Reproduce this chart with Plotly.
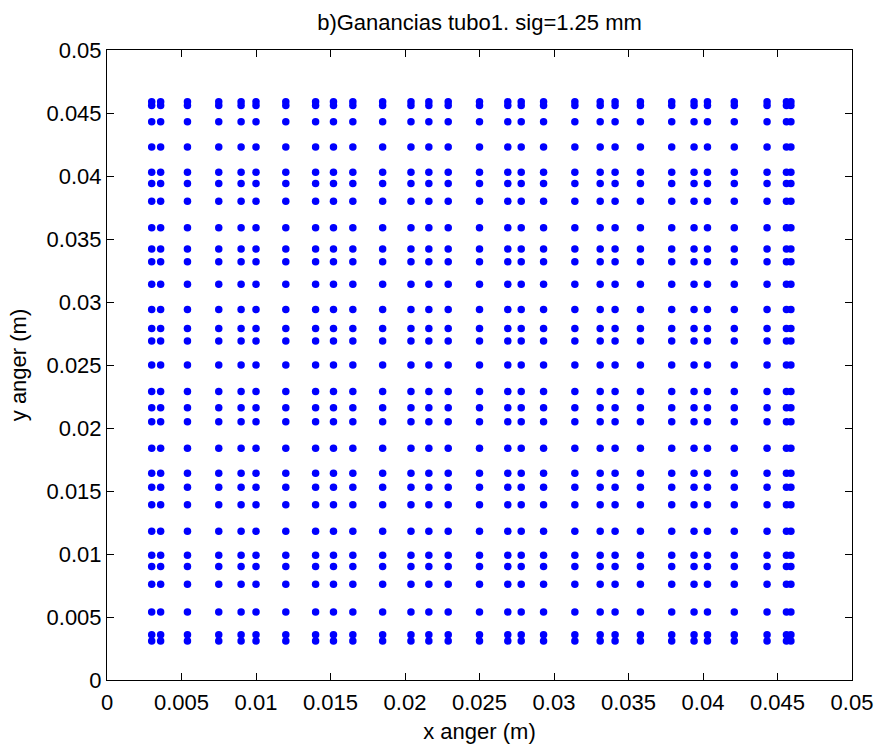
import plotly.graph_objects as go

# Column x positions (m)
x_cols = [0.0030, 0.0036, 0.0054, 0.0075, 0.0090, 0.0100, 0.0120, 0.0140,
          0.0152, 0.0165, 0.0185, 0.0204, 0.0216, 0.0229, 0.0250, 0.0269,
          0.0278, 0.0293, 0.0314, 0.0331, 0.0341, 0.0358, 0.0379, 0.0394,
          0.0403, 0.0421, 0.0443, 0.0456, 0.0459]

# Row y positions (m)
y_rows = [0.0031, 0.0036, 0.0054, 0.0076, 0.0090, 0.0099, 0.0118, 0.0139,
          0.0153, 0.0164, 0.0184, 0.0205, 0.0216, 0.0229, 0.0250, 0.0269,
          0.0279, 0.0294, 0.0314, 0.0332, 0.0342, 0.0359, 0.0380, 0.0394,
          0.0403, 0.0423, 0.0443, 0.0456, 0.0459]

tick_vals = [0, 0.005, 0.01, 0.015, 0.02, 0.025, 0.03, 0.035, 0.04, 0.045, 0.05]
tick_text = ["0", "0.005", "0.01", "0.015", "0.02", "0.025", "0.03",
             "0.035", "0.04", "0.045", "0.05"]

xs = [x for x in x_cols for _ in y_rows]
ys = [y for _ in x_cols for y in y_rows]

FONT = "Liberation Sans, Arial, sans-serif"
FS = 22

fig = go.Figure()
fig.add_trace(go.Scatter(
    x=xs, y=ys, mode="markers",
    marker=dict(color="rgb(0,0,255)", size=7.5, line=dict(width=0)),
    showlegend=False, hoverinfo="skip",
))

axis_common = dict(
    range=[0, 0.05], tickvals=tick_vals, ticktext=tick_text,
    ticks="inside", ticklen=7, tickwidth=1, tickcolor="black",
    showline=True, linecolor="black", linewidth=1, mirror="allticks",
    showgrid=False, zeroline=False, automargin=False,
    tickfont=dict(family=FONT, size=FS, color="black"),
)

fig.update_layout(
    width=879, height=744,
    margin=dict(l=107, r=27, t=50, b=64, pad=0, autoexpand=False),
    paper_bgcolor="white", plot_bgcolor="white",
    font=dict(family=FONT, size=FS, color="black"),
    title=dict(text="b)Ganancias tubo1. sig=1.25 mm", x=0.5, xref="paper",
               y=1 - 22 / 744, yref="container", yanchor="middle",
               automargin=False,
               font=dict(family=FONT, size=FS, color="black")),
    xaxis=dict(**axis_common, ticklabelstandoff=3,
               title=dict(text="x anger (m)", standoff=17,
                          font=dict(family=FONT, size=FS, color="black"))),
    yaxis=dict(**axis_common,
               title=dict(text="y anger (m)", standoff=13,
                          font=dict(family=FONT, size=FS, color="black"))),
)

fig.write_html("out.html")
